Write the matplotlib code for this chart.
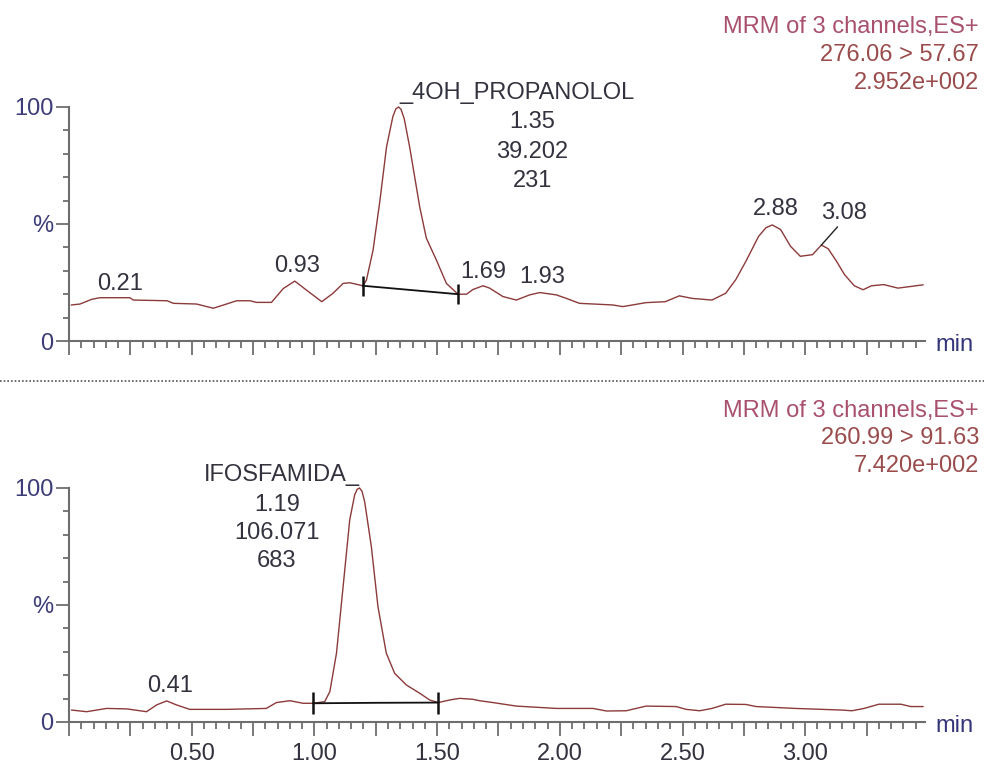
import matplotlib
matplotlib.use("Agg")
import matplotlib.pyplot as plt
from matplotlib.ticker import MultipleLocator, FixedLocator, FuncFormatter
from matplotlib.lines import Line2D

plt.rcParams['font.family'] = ['Liberation Sans', 'DejaVu Sans']
plt.rcParams['font.size'] = 17

# Channel 1: 276.06 > 57.67 (4OH_PROPANOLOL)
top_time = [0.01, 0.045, 0.092, 0.126, 0.248, 0.262, 0.40, 0.425, 0.52, 0.588, 0.642, 0.683,
            0.737, 0.764, 0.825, 0.873, 0.92, 0.967, 1.03, 1.076, 1.117, 1.144, 1.198, 1.212,
            1.239, 1.267, 1.294, 1.32, 1.332, 1.343, 1.353, 1.366, 1.388, 1.429, 1.456, 1.497,
            1.538, 1.585, 1.62, 1.646, 1.687, 1.714, 1.768, 1.823, 1.877, 1.918, 1.986, 2.027,
            2.08, 2.216, 2.257, 2.352, 2.43, 2.487, 2.54, 2.62, 2.676, 2.717, 2.758, 2.81,
            2.84, 2.866, 2.90, 2.94, 2.98, 3.03, 3.066, 3.094, 3.128, 3.16, 3.20, 3.236,
            3.27, 3.32, 3.378, 3.43, 3.48]
top_pct = [15.4, 15.8, 17.8, 18.5, 18.5, 17.5, 17.2, 16.1, 15.8, 14.0, 15.8, 17.2,
           17.2, 16.5, 16.5, 22.4, 25.6, 21.8, 16.8, 20.4, 24.6, 24.9, 23.6, 26.0,
           38.8, 60.0, 83.0, 96.0, 99.2, 100.0, 99.0, 95.0, 83.0, 57.4, 44.0, 34.6,
           24.6, 20.0, 20.0, 22.0, 23.6, 22.6, 19.0, 17.5, 19.7, 20.7, 19.7, 18.2,
           16.1, 15.4, 14.7, 16.4, 16.8, 19.3, 18.2, 17.5, 20.4, 26.2, 34.0, 44.7,
           48.4, 49.6, 47.6, 40.5, 36.2, 36.9, 41.0, 39.4, 34.0, 28.4, 23.6, 21.9,
           23.6, 24.1, 22.6, 23.3, 24.0]
top_base_t = [1.198, 1.585]
top_base_v = [23.6, 20.0]
top_peaks = [(0.21, 24.4), (0.93, 32.0), (1.69, 29.5), (1.93, 27.4), (2.88, 56.4)]
top_info = ["MRM of 3 channels,ES+", "276.06 > 57.67", "2.952e+002"]
top_name = "4OH_PROPANOLOL"
top_stats = ["1.35", "39.202", "231"]

# Channel 2: 260.99 > 91.63 (IFOSFAMIDA)
bot_time = [0.011, 0.072, 0.153, 0.235, 0.316, 0.357, 0.398, 0.438, 0.492, 0.642, 0.804,
            0.845, 0.90, 0.954, 0.995, 1.042, 1.063, 1.09, 1.117, 1.144, 1.164, 1.174, 1.184,
            1.194, 1.205, 1.232, 1.259, 1.293, 1.327, 1.375, 1.429, 1.47, 1.505, 1.551, 1.592,
            1.646, 1.673, 1.728, 1.823, 1.986, 2.135, 2.19, 2.27, 2.352, 2.474, 2.515,
            2.57, 2.62, 2.676, 2.758, 2.80, 2.96, 3.15, 3.19, 3.24, 3.30, 3.39, 3.43, 3.48]
bot_pct = [5.1, 4.4, 5.8, 5.6, 4.4, 7.3, 9.0, 7.3, 5.4, 5.4, 5.8,
           8.3, 9.1, 8.0, 8.0, 8.7, 13.0, 29.4, 57.9, 86.4, 97.0, 99.4, 100.0,
           98.6, 94.0, 75.0, 49.3, 29.4, 20.8, 15.8, 12.3, 9.4, 8.3, 9.4, 10.1,
           9.7, 9.1, 8.3, 6.8, 5.8, 5.8, 4.7, 4.8, 6.8, 6.6, 5.4,
           4.8, 5.8, 7.6, 7.5, 6.6, 5.8, 5.1, 4.8, 5.8, 7.6, 7.6, 6.6, 6.6]
bot_base_t = [0.995, 1.25, 1.505]
bot_base_v = [8.0, 8.2, 8.3]
bot_peaks = [(0.41, 15.4)]
bot_info = ["MRM of 3 channels,ES+", "260.99 > 91.63", "7.420e+002"]
bot_name = "IFOSFAMIDA"
bot_stats = ["1.19", "106.071", "683"]

trace_color = '#8c3a3a'
axis_color = '#6e6e6e'
label_color = '#33333f'
ytick_color = '#3c3c78'

W, H = 984, 765
X_END = 3.49


def fx(px):
    return px / W


def fy(py):
    return 1 - py / H


def time_label(v, pos):
    # only every 0.50 min gets a number
    if v > 0 and abs(v / 0.5 - round(v / 0.5)) < 1e-6:
        return f"{v:.2f}"
    return ""


def setup_axes(ax, show_labels):
    ax.set_xlim(0, X_END)
    ax.set_ylim(0, 100)
    for side in ['top', 'right']:
        ax.spines[side].set_visible(False)
    for side in ['left', 'bottom']:
        ax.spines[side].set_color(axis_color)
        ax.spines[side].set_linewidth(1.5)
    ax.xaxis.set_major_locator(MultipleLocator(0.25))
    ax.xaxis.set_minor_locator(MultipleLocator(0.05))
    if show_labels:
        ax.xaxis.set_major_formatter(FuncFormatter(time_label))
    else:
        ax.xaxis.set_major_formatter(FuncFormatter(lambda v, p: ""))
    ax.yaxis.set_major_locator(FixedLocator([0, 50, 100]))
    ax.yaxis.set_major_formatter(FuncFormatter(lambda v, p: {0: "0", 50: "%", 100: "100"}[int(round(v))]))
    ax.yaxis.set_minor_locator(MultipleLocator(10))
    ax.tick_params(axis='x', which='major', length=10, width=1.3, color=axis_color,
                   labelcolor=label_color, pad=5)
    ax.tick_params(axis='x', which='minor', length=5, width=1.3, color=axis_color)
    ax.tick_params(axis='y', which='major', length=9.5, width=1.3, color=axis_color,
                   labelcolor=ytick_color, pad=1.5)
    ax.tick_params(axis='y', which='minor', length=4.5, width=1.3, color=axis_color)
    ax.text(X_END + 0.04, -1.5, "min", color='#34347a', ha='left', va='center', clip_on=False)


fig = plt.figure(figsize=(W / 100, H / 100), dpi=100)
ax_w = fx(X_END * 245.4)
ax1 = fig.add_axes([fx(69), fy(341), ax_w, 0.3059])
ax2 = fig.add_axes([fx(69), fy(722), ax_w, 0.3059])
setup_axes(ax1, False)
setup_axes(ax2, True)

# traces
ax1.plot(top_time, top_pct, color=trace_color, lw=1.0, clip_on=False)
ax2.plot(bot_time, bot_pct, color=trace_color, lw=1.0, clip_on=False)

# integration baselines with end marks
ax1.plot(top_base_t, top_base_v, color='#111111', lw=1.3)
ax1.plot(top_base_t, top_base_v, ls='none', marker='|', ms=15, mew=1.8, color='#111111')
ax2.plot(bot_base_t, bot_base_v, color='#111111', lw=1.3)
ax2.plot([bot_base_t[0], bot_base_t[-1]], [bot_base_v[0], bot_base_v[-1]], ls='none',
         marker='|', ms=16, mew=1.8, color='#111111')

# retention time labels
for t, v in top_peaks:
    ax1.text(t, v, f"{t:.2f}", color=label_color, ha='center', va='center')
for t, v in bot_peaks:
    ax2.text(t, v, f"{t:.2f}", color=label_color, ha='center', va='center')

# 3.08 label with leader line
ax1.plot([3.066, 3.131], [41.0, 48.7], color='#222222', lw=1.0)
ax1.text(3.16, 54.7, "3.08", color=label_color, ha='center', va='center')

# named peaks
ax1.text(1.348, 106, "_" + top_name, color=label_color, ha='left', va='center', clip_on=False)
for i, s in enumerate(top_stats):
    ax1.text(1.889, 93.5 - i * 12.6, s, color=label_color, ha='center', va='center')

ax2.text(1.185, 105.6, bot_name + "_", color=label_color, ha='right', va='center', clip_on=False)
for i, s in enumerate(bot_stats):
    ax2.text(0.847, 92.7 - i * 12.0, s, color=label_color, ha='center', va='center')

# channel info, top right of each panel
info_colors = ['#a8506e', '#9a4c4c', '#9a4c4c']
for i, s in enumerate(top_info):
    fig.text(fx(979), fy(27 + i * 28), s, color=info_colors[i], ha='right', va='center')
for i, s in enumerate(bot_info):
    fig.text(fx(979), fy(411 + i * 27.5), s, color=info_colors[i], ha='right', va='center')

# dotted divider between the two channels
fig.add_artist(Line2D([0, 1], [fy(381), fy(381)], color='#555555', lw=1.2,
                      ls=(0, (1, 1.2)), transform=fig.transFigure))

fig.savefig("out.png", dpi=100)
